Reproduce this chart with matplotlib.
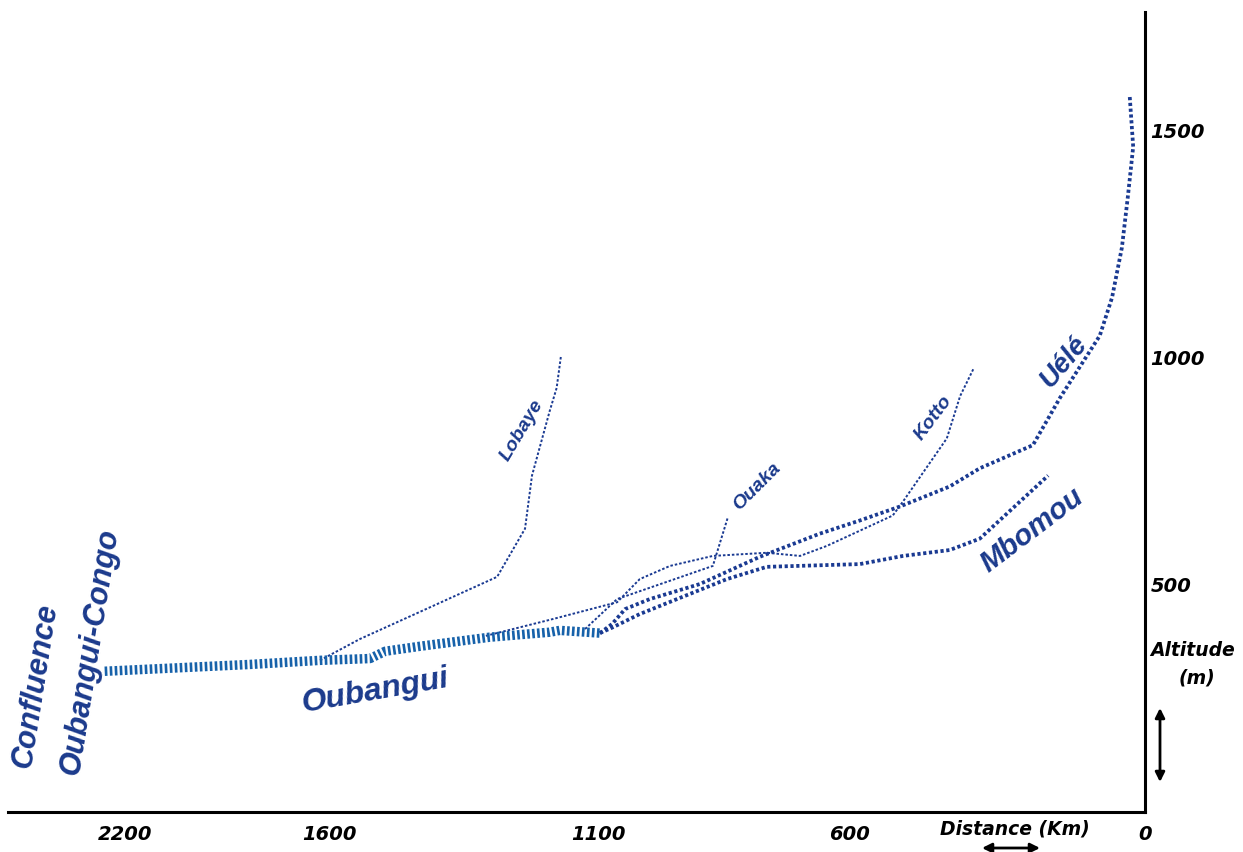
import numpy as np
import matplotlib
matplotlib.use('Agg')
import matplotlib.pyplot as plt

# 河流纵剖面 (distance from source, altitude)
oubangui_km = [2259, 1834, 1629, 1525, 1497, 1432, 1302, 1190, 1171, 1096]
oubangui_alt = [310, 325, 334, 338, 354, 365, 385, 396, 400, 394]

uele_km = [1096, 1072, 1046, 997, 898, 779, 660, 580, 498, 397, 336, 228, 173, 92, 67, 47, 35, 24, 31]
uele_alt = [394, 414, 447, 469, 502, 562, 613, 642, 673, 717, 757, 808, 912, 1049, 1133, 1243, 1354, 1465, 1575]

mbomou_km = [1096, 1070, 1017, 943, 844, 765, 580, 492, 397, 336, 281, 197]
mbomou_alt = [394, 407, 436, 469, 513, 540, 546, 564, 577, 602, 657, 741]

kotto_km = [1309, 1184, 1062, 1017, 957, 872, 765, 699, 646, 513, 492, 403, 376, 348]
kotto_alt = [388, 425, 462, 513, 542, 564, 571, 564, 586, 653, 684, 823, 916, 978]

ouaka_km = [1124, 1062, 872, 842]
ouaka_alt = [403, 469, 542, 650]

lobaye_km = [1629, 1544, 1413, 1288, 1236, 1223, 1190, 1177, 1169]
lobaye_alt = [334, 381, 451, 518, 624, 741, 883, 934, 1004]

x_ticks = [2200, 1600, 1100, 600, 0]
y_ticks = [500, 1000, 1500]

W, H = 1243, 852
navy = '#1a3a92'
steel = '#1762aa'
txt_blue = '#1b3a8c'

fig = plt.figure(figsize=(W / 100, H / 100), dpi=100)
ax = fig.add_axes([8 / W, 40 / H, (1145 - 8) / W, 800 / H])

# 原图的距离轴不是等距的，用分段线性刻度还原
km_knots = [-100, 0, 600, 1100, 1600, 2200, 2800]
u_knots = [-49, 0, 295, 547, 815, 1020, 1225]


def fwd(x):
    return np.interp(x, km_knots, u_knots)


def inv(u):
    return np.interp(u, u_knots, km_knots)


ax.set_xscale('function', functions=(fwd, inv))

# 支流 (细虚线)
for xs, ys in [(lobaye_km, lobaye_alt), (ouaka_km, ouaka_alt), (kotto_km, kotto_alt)]:
    ax.plot(xs, ys, color=navy, lw=1.4, dashes=(1.3, 1.0), dash_capstyle='butt')

# 主干 (粗点线)
ax.plot(mbomou_km, mbomou_alt, color=navy, lw=2.7, dashes=(0.85, 0.7), dash_capstyle='butt')
ax.plot(uele_km, uele_alt, color=navy, lw=2.7, dashes=(0.85, 0.7), dash_capstyle='butt')
ax.plot(oubangui_km, oubangui_alt, color=steel, lw=6.8, dashes=(0.28, 0.25), dash_capstyle='butt')

ax.set_xlim(2542, 0)
ax.set_ylim(0, 1762)

for s in ['top', 'left']:
    ax.spines[s].set_visible(False)
for s in ['bottom', 'right']:
    ax.spines[s].set_linewidth(2.2)
    ax.spines[s].set_color('black')

tick_font = dict(fontsize=14, fontweight='bold', fontstyle='italic', family='DejaVu Sans')
ax.set_xticks(x_ticks)
ax.set_xticklabels([str(v) for v in x_ticks], **tick_font)
ax.yaxis.tick_right()
ax.set_yticks(y_ticks)
ax.set_yticklabels([str(v) for v in y_ticks], **tick_font)
ax.tick_params(axis='x', length=0, pad=9)
ax.tick_params(axis='y', length=0, pad=4)


def put(px, py, s, size, rot, color=txt_blue, family='Liberation Sans'):
    fig.text(px / W, 1 - py / H, s, fontsize=size, rotation=rot, color=color,
             fontweight='bold', fontstyle='italic', family=family,
             ha='center', va='center', rotation_mode='anchor')


# 河流名称
put(36, 686, 'Confluence', 22, 81)
put(90, 652, 'Oubangui-Congo', 22, 81)
put(375, 691, 'Oubangui', 23, 10)
put(1032, 530, 'Mbomou', 21, 37)
put(1064, 362, 'Uélé', 20, 50)
put(522, 430, 'Lobaye', 14, 59)
put(757, 487, 'Ouaka', 14, 45)
put(933, 418, 'Kotto', 14, 53)

# 坐标轴说明
put(1015, 829, 'Distance (Km)', 13.5, 0, color='black', family='DejaVu Sans')
put(1193, 650, 'Altitude', 13.5, 0, color='black', family='DejaVu Sans')
put(1197, 678, '(m)', 13.5, 0, color='black', family='DejaVu Sans')

arrow = dict(arrowstyle='<|-|>', color='black', lw=2, mutation_scale=14, shrinkA=0, shrinkB=0)
ax.annotate('', xy=(1160 / W, 1 - 708 / H), xytext=(1160 / W, 1 - 782 / H),
            xycoords='figure fraction', arrowprops=arrow, annotation_clip=False)
ax.annotate('', xy=(982 / W, 1 - 848 / H), xytext=(1040 / W, 1 - 848 / H),
            xycoords='figure fraction', arrowprops=arrow, annotation_clip=False)

fig.savefig('out.png', dpi=100)
